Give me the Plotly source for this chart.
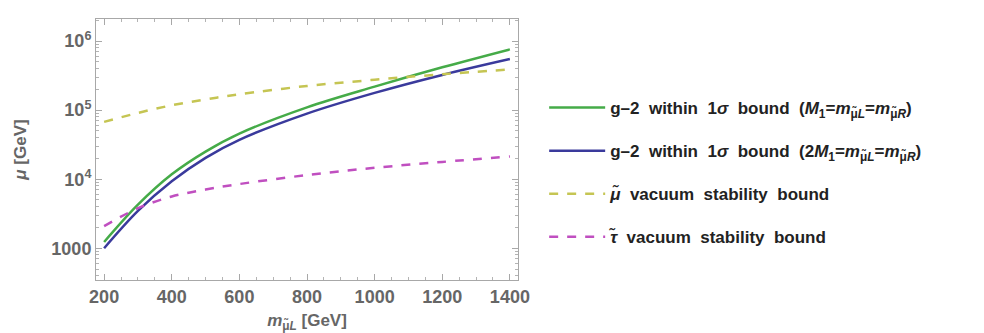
import plotly.graph_objects as go

# masses (GeV)
m_smuon = [200, 300, 400, 500, 600, 800, 1000, 1200, 1400]

# mu values (GeV)
g2_M1_eq = [1230, 4270, 11750, 25100, 45700, 109600, 218800, 416900, 758600]
g2_2M1_eq = [1000, 3470, 9330, 20400, 37150, 89100, 177800, 323600, 549500]
smuon_vac = [67600, 91200, 117500, 142900, 169800, 223900, 275400, 331100, 389000]
stau_vac = [2090, 3800, 5620, 7080, 8510, 11480, 14620, 17780, 21380]

y_tickvals = [1000, 1e4, 1e5, 1e6]
y_ticktext = ["1000", "10<sup>4</sup>", "10<sup>5</sup>", "10<sup>6</sup>"]
x_tickvals = [200, 400, 600, 800, 1000, 1200, 1400]

names = [
    "g\u20132  within  1<i>\u03c3</i>  bound  (<i>M</i><sub>1</sub>=<i>m</i><sub>\u03bc\u0303<i>L</i></sub>=<i>m</i><sub>\u03bc\u0303<i>R</i></sub>)",
    "g\u20132  within  1<i>\u03c3</i>  bound  (2<i>M</i><sub>1</sub>=<i>m</i><sub>\u03bc\u0303<i>L</i></sub>=<i>m</i><sub>\u03bc\u0303<i>R</i></sub>)",
    "<i>\u03bc\u0303</i>  vacuum  stability  bound",
    "<i>\u03c4\u0303</i>  vacuum  stability  bound",
]

GREY = "#666666"
FONT = "Liberation Sans"

fig = go.Figure()
styles = [
    (g2_M1_eq, "#45ab48", "solid"),
    (g2_2M1_eq, "#3a3a9c", "solid"),
    (smuon_vac, "#c5c553", "dash"),
    (stau_vac, "#c04fc0", "dash"),
]
for i, ((ys, col, dash), nm) in enumerate(zip(styles, names)):
    fig.add_trace(go.Scatter(
        x=m_smuon, y=ys, mode="lines", name=nm, legendgroup=str(i),
        line=dict(color=col, width=2.5, dash=dash, shape="spline"),
    ))

axis_common = dict(
    showgrid=False, zeroline=False, showline=True, linecolor="#a8a8a8",
    linewidth=1, mirror="ticks", ticks="inside", tickcolor="#a8a8a8",
    ticklen=6, tickfont=dict(family=FONT, size=18, color=GREY, weight="bold"),
)

fig.update_xaxes(
    range=[176, 1424], tickvals=x_tickvals, **axis_common,
    minor=dict(ticks="inside", dtick=50, ticklen=3, tickcolor="#b4b4b4"),
    title=dict(text="<i>m</i><sub>\u03bc\u0303<i>L</i></sub> [GeV]", standoff=8,
               font=dict(family=FONT, size=17, color=GREY, weight="bold")),
)
fig.update_yaxes(
    type="log", range=[2.54, 6.32], tickvals=y_tickvals, ticktext=y_ticktext,
    **axis_common,
    minor=dict(ticks="inside", ticklen=3, tickcolor="#b4b4b4",
               tickvals=[m * 10 ** e for e in range(2, 7) for m in range(2, 10)]),
    title=dict(text="<i>\u03bc</i> [GeV]", standoff=20,
               font=dict(family=FONT, size=17, color=GREY, weight="bold")),
)

fig.update_layout(
    width=984, height=333,
    margin=dict(l=88, r=474, t=11, b=61),
    plot_bgcolor="white", paper_bgcolor="white",
    font=dict(family=FONT, size=17, color="#222222"),
    legend=dict(x=1.062, y=0.728, xanchor="left", yanchor="top", itemwidth=56,
                tracegroupgap=18,
                font=dict(family=FONT, size=17, color="#222222", weight="bold")),
    showlegend=True,
)

fig.write_html("out.html")
